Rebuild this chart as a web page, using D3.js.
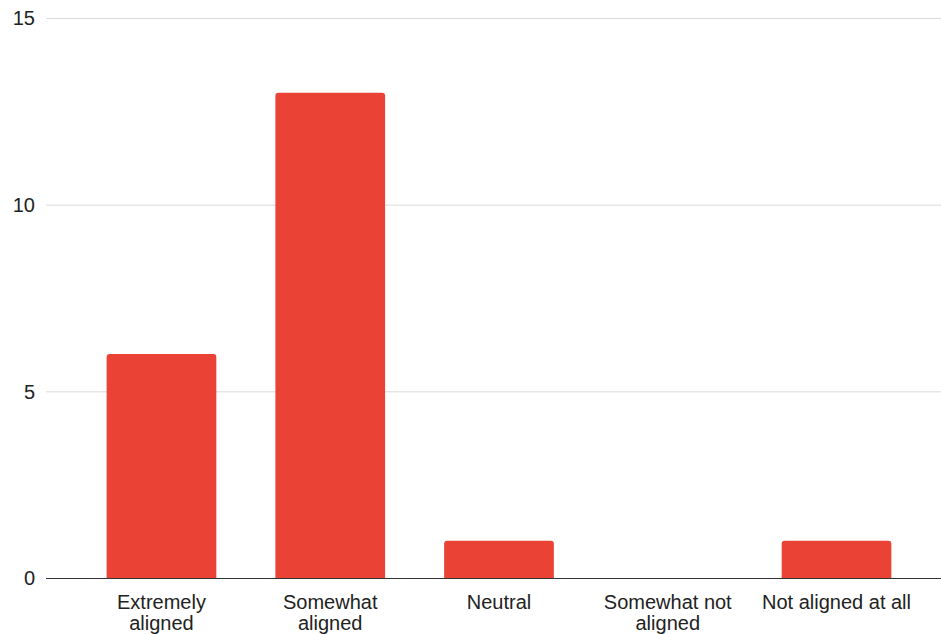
<!DOCTYPE html>
<html>
<head>
<meta charset="utf-8">
<script src="https://cdn.jsdelivr.net/npm/d3@7"></script>
<style>
  body { margin: 0; background: #fff; }
  svg { display: block; font-family: "Liberation Sans", Arial, sans-serif; }
</style>
</head>
<body>
<svg id="chart" width="941" height="634"></svg>
<script>
const categories = ["Extremely aligned", "Somewhat aligned", "Neutral", "Somewhat not aligned", "Not aligned at all"];
const labelLines = [["Extremely", "aligned"], ["Somewhat", "aligned"], ["Neutral"], ["Somewhat not", "aligned"], ["Not aligned at all"]];
const values = [6, 13, 1, 0, 1];
const yTicks = [0, 5, 10, 15];

const svg = d3.select("#chart");
const axisLeft = 46, axisRight = 941;
const y0 = 578, yTop = 18;

const y = d3.scaleLinear().domain([0, 15]).range([y0, yTop]);
const x = d3.scaleBand()
  .domain(categories)
  .range([77.1, 920.9])
  .paddingInner(0.35)
  .paddingOuter(0.175);

// horizontal gridlines
svg.append("g").selectAll("line")
  .data(yTicks.filter(d => d !== 0))
  .join("line")
  .attr("x1", axisLeft).attr("x2", axisRight)
  .attr("y1", d => y(d) + 0.5).attr("y2", d => y(d) + 0.5)
  .attr("stroke", "#d9d9d9").attr("stroke-width", 1);

// y tick labels
svg.append("g").selectAll("text")
  .data(yTicks)
  .join("text")
  .attr("x", 35).attr("y", d => y(d))
  .attr("dy", "0.36em")
  .attr("text-anchor", "end")
  .attr("font-size", 20)
  .attr("fill", "#222")
  .text(d => d);

// bars with rounded top corners
const r = 3;
svg.append("g").selectAll("path")
  .data(categories.map((c, i) => ({ c, v: values[i] })).filter(d => d.v > 0))
  .join("path")
  .attr("fill", "#ea4335")
  .attr("d", d => {
    const x0 = x(d.c), w = x.bandwidth(), top = y(d.v), bottom = y(0);
    return `M${x0},${bottom}V${top + r}Q${x0},${top} ${x0 + r},${top}H${x0 + w - r}Q${x0 + w},${top} ${x0 + w},${top + r}V${bottom}Z`;
  });

// baseline
svg.append("line")
  .attr("x1", axisLeft).attr("x2", axisRight)
  .attr("y1", y0 + 0.5).attr("y2", y0 + 0.5)
  .attr("stroke", "#333").attr("stroke-width", 1);

// category labels
const lab = svg.append("g").selectAll("text")
  .data(categories)
  .join("text")
  .attr("x", d => x(d) + x.bandwidth() / 2)
  .attr("y", 609)
  .attr("text-anchor", "middle")
  .attr("font-size", 20)
  .attr("fill", "#222");
lab.each(function(d, i) {
  d3.select(this).selectAll("tspan")
    .data(labelLines[i])
    .join("tspan")
    .attr("x", x(d) + x.bandwidth() / 2)
    .attr("dy", (t, j) => j === 0 ? 0 : 21)
    .text(t => t);
});
</script>
</body>
</html>
